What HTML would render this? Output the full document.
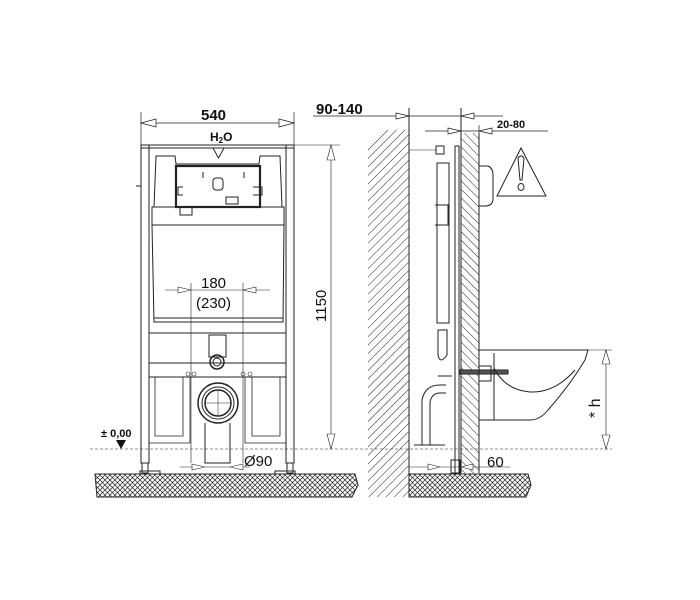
<!DOCTYPE html>
<html><head><meta charset="utf-8"><style>
html,body{margin:0;padding:0;background:#fff;}
svg{display:block;font-family:"Liberation Sans",sans-serif;}
</style></head><body>
<svg width="700" height="600" viewBox="0 0 700 600" xmlns="http://www.w3.org/2000/svg">
<defs>
<pattern id="cross" width="5" height="5" patternUnits="userSpaceOnUse">
<path d="M0 0L5 5M5 0L0 5" stroke="#222" stroke-width="0.7"/>
</pattern>
<pattern id="diag" width="6" height="6" patternUnits="userSpaceOnUse" patternTransform="rotate(45)">
<line x1="0" y1="0" x2="0" y2="6" stroke="#222" stroke-width="1"/>
</pattern>
<pattern id="diag2" width="6" height="6" patternUnits="userSpaceOnUse" patternTransform="rotate(-45)">
<line x1="0" y1="0" x2="0" y2="6" stroke="#222" stroke-width="1"/>
</pattern>
</defs>
<g fill="none" stroke="#222" stroke-width="1">
<line x1="90" y1="449" x2="612" y2="449" stroke-dasharray="3,2" stroke-width="0.6"/>
<path d="M95 474 L355 474 L358 485 L352 497 L97 497 Z" fill="url(#cross)"/>
<path d="M409 474 L528 474 L531 485 L526 497 L409 497 Z" fill="url(#cross)"/>

<line x1="141" y1="112" x2="141" y2="145" stroke-width="0.7"/>
<line x1="294" y1="112" x2="294" y2="145" stroke-width="0.7"/>
<line x1="141" y1="123" x2="294" y2="123" stroke-width="0.7"/>
<path d="M141 123 L156 119 L156 127 Z M294 123 L279 119 L279 127 Z" fill="#fff" stroke-width="0.7"/>
<rect x="141" y="145" width="153" height="3"/>
<rect x="141" y="145" width="8" height="318"/>
<rect x="286" y="145" width="8" height="318"/>
<rect x="142" y="463" width="6" height="10"/>
<rect x="287" y="463" width="6" height="10"/>
<rect x="140" y="471" width="20" height="3"/>
<rect x="275" y="471" width="20" height="3"/>
<line x1="136" y1="186" x2="141" y2="186"/>
<path d="M156 156 L175 156 L176 164 L259 164 L260 156 L280 156 L282 207 L154 207 Z"/>
<rect x="176" y="166" width="84" height="41" stroke-width="2.2"/>
<path d="M203 172 L203 178 M244 172 L244 178 M183 187 L178 187 L178 195 L183 195 M253 187 L262 187 L262 195 L253 195"/>
<rect x="213" y="178" width="10" height="12" rx="3"/>
<rect x="226" y="197" width="12" height="7"/>
<rect x="180" y="207" width="12" height="8"/>
<path d="M152 207 L284 207 L284 225 L283 322 L154 322 L152 225 Z"/>
<line x1="152" y1="225" x2="284" y2="225"/>
<line x1="154" y1="318" x2="283" y2="318"/>
<line x1="149" y1="333" x2="286" y2="333"/>
<line x1="149" y1="363" x2="286" y2="363"/>
<line x1="149" y1="377" x2="286" y2="377"/>
<rect x="209" y="335" width="17" height="22"/>
<circle cx="217" cy="362" r="7" stroke-width="1.5"/>
<circle cx="217" cy="362" r="4"/>
<circle cx="188" cy="374" r="2" stroke-width="0.6"/><circle cx="194" cy="374" r="2" stroke-width="0.6"/>
<circle cx="243" cy="374" r="2" stroke-width="0.6"/><circle cx="250" cy="374" r="2" stroke-width="0.6"/>
<circle cx="218" cy="403" r="20" stroke-width="1.5"/>
<circle cx="218" cy="403" r="16"/>
<circle cx="218" cy="403" r="13" stroke-width="1.5"/>
<line x1="205" y1="403" x2="231" y2="403" stroke-width="0.5"/>
<line x1="218" y1="390" x2="218" y2="416" stroke-width="0.5"/>
<path d="M205 423 L205 463 L230 463 L230 423"/>
<path d="M149 377 L149 443 L190 443 L190 377 M155 377 L155 436 L183 436 L183 377" stroke-width="0.8"/>
<path d="M286 377 L286 443 L245 443 L245 377 M280 377 L280 436 L252 436 L252 377" stroke-width="0.8"/>
<line x1="191" y1="283" x2="191" y2="463" stroke-width="0.6"/>
<line x1="243" y1="283" x2="243" y2="463" stroke-width="0.6"/>
<line x1="165" y1="290" x2="270" y2="290" stroke-width="0.6"/>
<path d="M191 290 L178 287 L178 293 Z M243 290 L256 287 L256 293 Z" fill="#fff" stroke-width="0.6"/>
<line x1="180" y1="467" x2="250" y2="467" stroke-width="0.6"/>
<path d="M205 467 L192 464 L192 470 Z M230 467 L243 464 L243 470 Z" fill="#fff" stroke-width="0.6"/>
<path d="M213 148 L224 148 L218.5 158 Z"/>
<line x1="294" y1="145" x2="340" y2="145" stroke-width="0.6"/>
<line x1="331" y1="145" x2="331" y2="449" stroke-width="0.6"/>
<path d="M331 145 L327 160 L335 160 Z M331 449 L327 434 L335 434 Z" fill="#fff" stroke-width="0.6"/>

<path d="M368 148 L385 130 L409 130 L409 497 L368 497 Z" fill="url(#diag)" stroke="none"/>
<line x1="409" y1="108" x2="409" y2="497"/>
<line x1="461" y1="108" x2="461" y2="473"/>
<line x1="313" y1="116" x2="503" y2="116" stroke-width="0.7"/>
<path d="M409 116 L396 113 L396 119 Z M461 116 L474 113 L474 119 Z" fill="#fff" stroke-width="0.7"/>
<line x1="425" y1="131" x2="548" y2="131" stroke-width="0.7"/>
<line x1="479" y1="125" x2="479" y2="140" stroke-width="0.7"/>
<path d="M461 131 L448 128 L448 134 Z M479 131 L492 128 L492 134 Z" fill="#fff" stroke-width="0.7"/>
<rect x="461" y="133" width="18" height="340" fill="url(#diag2)" stroke="none"/>
<line x1="479" y1="133" x2="479" y2="473"/>
<rect x="455" y="146" width="4" height="327"/>
<line x1="409" y1="150" x2="437" y2="150" stroke-width="0.6"/>
<rect x="436" y="146" width="8" height="8"/>
<path d="M437 163 L449 163 L449 323 L437 323 Z"/>
<path d="M435 205 L448 205 L448 225 L435 225"/>
<path d="M438 330 L447 330 L447 355 Q440 365 438 355 Z"/>
<path d="M422 445 L422 400 Q425 385 440 385 L446 385 M430 445 L430 402 Q432 393 440 393 L446 393" />
<line x1="414" y1="445" x2="445" y2="445"/>
<line x1="438" y1="376" x2="452" y2="376"/>
<path d="M479 166 L488 166 Q493 168 493 175 L493 200 Q492 206 485 206 L479 206"/>
<rect x="460" y="370" width="48" height="4" fill="#555"/>
<path d="M479 350 L588 350 L585 360 Q570 385 548 410 Q540 420 530 420 L479 420" />
<path d="M494 353 L494 420"/>
<path d="M494 368 Q505 390 530 392 Q555 393 575 370"/>
<rect x="479" y="366" width="12" height="15"/>
<line x1="588" y1="350" x2="612" y2="350" stroke-width="0.6"/>
<line x1="606" y1="350" x2="606" y2="449" stroke-width="0.6"/>
<path d="M606 350 L602 364 L610 364 Z M606 449 L602 435 L610 435 Z" fill="#fff" stroke-width="0.6"/>
<line x1="410" y1="467" x2="510" y2="467" stroke-width="0.6"/>
<rect x="451" y="460" width="9" height="13"/>
<path d="M440 467 L428 464 L428 470 Z M461 467 L473 464 L473 470 Z" fill="#fff" stroke-width="0.6"/>
<path d="M521 148 L497 196 L546 196 Z" stroke-width="1"/>
<path d="M518 158 Q521 154 524 158 L522 180 L520 180 Z"/>
<ellipse cx="521" cy="187" rx="3" ry="3.5"/>
</g>
<g fill="#111" font-weight="bold">
<text x="201" y="120" font-size="15">540</text>
<text x="210" y="141" font-size="12">H<tspan font-size="8" dy="2">2</tspan><tspan dy="-2">O</tspan></text>
<text x="316" y="114" font-size="15">90-140</text>
<text x="497" y="128" font-size="11">20-80</text>
</g>
<g fill="#111" font-size="15">
<text x="201" y="288">180</text>
<text x="196" y="308">(230)</text>
<text x="244" y="466">Ø90</text>
<text x="487" y="467">60</text>
<text transform="translate(326 322) rotate(-90)">1150</text>
<text transform="translate(600 418) rotate(-90)" font-size="16">* h</text>
</g>
<text x="101" y="437" font-size="11" font-weight="bold" fill="#111">± 0,00</text>
<path d="M116 440 L126 440 L121 449 Z" fill="#111"/>
</svg>
</body></html>
